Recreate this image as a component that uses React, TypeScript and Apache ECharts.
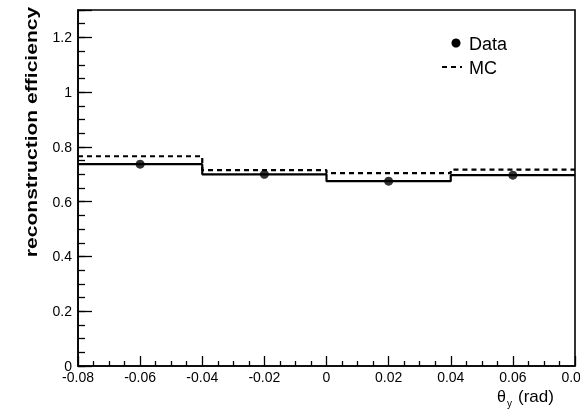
import { useEffect, useRef } from "react";
import * as echarts from "echarts";

// bin edges of theta_y (rad)
const binEdges = [-0.08, -0.04, 0, 0.04, 0.08];
// bin centres where the data points sit
const binCenters = [-0.06, -0.02, 0.02, 0.06];
// reconstruction efficiency, data
const dataEff = [0.737, 0.7, 0.675, 0.697];
// reconstruction efficiency, MC
const mcEff = [0.766, 0.715, 0.704, 0.717];

const yTitle = "reconstruction efficiency";
const legendLabels = ["Data", "MC"];

function stepPoints(edges: number[], vals: number[]): number[][] {
  const pts: number[][] = [];
  for (let i = 0; i < vals.length; i++) pts.push([edges[i], vals[i]]);
  pts.push([edges[edges.length - 1], vals[vals.length - 1]]);
  return pts;
}

export default function App() {
  const ref = useRef<HTMLDivElement>(null);
  useEffect(() => {
    if (!ref.current) return;
    const chart = echarts.init(ref.current, undefined, { renderer: "svg" });
    const font = "Liberation Sans, Arial, sans-serif";
    const fmtX = (v: number) => {
      const r = Math.round(v * 100) / 100;
      if (Math.abs(r) < 1e-9) return "0";
      return r.toFixed(2);
    };
    const fmtY = (v: number) => {
      if (v > 1.25) return "";
      const r = Math.round(v * 10) / 10;
      return String(r);
    };
    chart.setOption({
      animation: false,
      grid: {
        left: 78,
        right: 5,
        top: 10,
        bottom: 44,
        outerBoundsMode: "none",
        containLabel: false,
        show: true,
        borderColor: "#000",
        borderWidth: 1.6,
        backgroundColor: "transparent",
      },
      xAxis: {
        type: "value",
        min: -0.08,
        max: 0.08,
        interval: 0.02,
        axisLine: { show: true, onZero: false, lineStyle: { color: "#000", width: 1.6 } },
        axisTick: { show: true, inside: true, length: 10, lineStyle: { color: "#000", width: 1.3 } },
        minorTick: { show: true, splitNumber: 4, length: 5, lineStyle: { color: "#000", width: 1.3 } },
        splitLine: { show: false },
        axisLabel: {
          formatter: fmtX,
          color: "#000",
          fontFamily: font,
          fontSize: 14,
          margin: 4,
          showMaxLabel: true,
          showMinLabel: true,
          hideOverlap: false,
        },
      },
      yAxis: [
        {
          type: "value",
          min: 0,
          max: 1.3,
          interval: 0.2,
          position: "left",
          axisLine: { show: true, onZero: false, lineStyle: { color: "#000", width: 1.6 } },
          axisTick: { show: true, inside: true, length: 14, lineStyle: { color: "#000", width: 1.3 } },
          splitLine: { show: false },
          axisLabel: {
            formatter: fmtY,
            color: "#000",
            fontFamily: font,
            fontSize: 14,
            margin: 6,
          },
        },
        {
          type: "value",
          min: 0,
          max: 1.3,
          interval: 0.05,
          position: "left",
          axisLine: { show: false, onZero: false },
          axisTick: { show: true, inside: true, length: 7, lineStyle: { color: "#000", width: 1.3 } },
          splitLine: { show: false },
          axisLabel: { show: false },
        },
      ],
      series: [
        {
          name: "MC",
          type: "line",
          step: "end",
          yAxisIndex: 0,
          data: stepPoints(binEdges, mcEff),
          showSymbol: false,
          symbol: "none",
          lineStyle: { color: "#000", width: 2.2, type: [5, 4] },
          z: 3,
        },
        {
          name: "Data hist",
          type: "line",
          step: "end",
          yAxisIndex: 0,
          data: stepPoints(binEdges, dataEff),
          showSymbol: false,
          symbol: "none",
          lineStyle: { color: "#000", width: 2.2 },
          z: 4,
        },
        {
          name: "Data",
          type: "scatter",
          yAxisIndex: 0,
          data: binCenters.map((x, i) => [x, dataEff[i]]),
          symbol: "circle",
          symbolSize: 9,
          itemStyle: { color: "#000" },
          z: 5,
        },
      ],
      graphic: [
        {
          type: "text",
          x: 31,
          y: 132,
          rotation: Math.PI / 2,
          scaleX: 1.24,
          style: {
            text: yTitle,
            fontFamily: font,
            fontSize: 17,
            fontWeight: "bold",
            fill: "#000",
            align: "center",
            verticalAlign: "middle",
          },
        },
        { type: "circle", shape: { cx: 456, cy: 43, r: 4.5 }, style: { fill: "#000" } },
        {
          type: "text",
          x: 469,
          y: 44,
          style: { text: legendLabels[0], fontFamily: font, fontSize: 18, fill: "#000", verticalAlign: "middle" },
        },
        {
          type: "line",
          shape: { x1: 442, y1: 67, x2: 462, y2: 67 },
          style: { stroke: "#000", lineWidth: 2.2, lineDash: [5, 4] },
        },
        {
          type: "text",
          x: 469,
          y: 68,
          style: { text: legendLabels[1], fontFamily: font, fontSize: 18, fill: "#000", verticalAlign: "middle" },
        },
        {
          type: "text",
          x: 497,
          y: 396,
          style: { text: "θ", fontFamily: font, fontSize: 16, fill: "#000", verticalAlign: "middle" },
        },
        {
          type: "text",
          x: 507,
          y: 403,
          style: { text: "y", fontFamily: font, fontSize: 10, fill: "#000", verticalAlign: "middle" },
        },
        {
          type: "text",
          x: 518,
          y: 396,
          style: { text: "(rad)", fontFamily: font, fontSize: 17, fill: "#000", verticalAlign: "middle" },
        },
      ],
    });
    return () => chart.dispose();
  }, []);
  return <div ref={ref} style={{ position: "fixed", left: 0, top: 0, width: 580, height: 410 }} />;
}
